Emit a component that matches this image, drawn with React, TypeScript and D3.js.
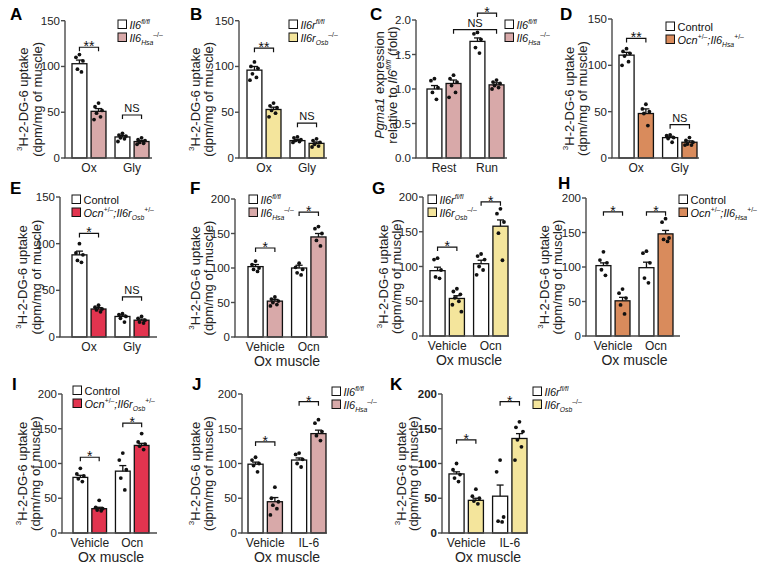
import React from 'react';
import * as d3 from 'd3';

const FONT = "'Liberation Sans', Arial, Helvetica, sans-serif";
const PINK = '#d8a9a9';
const YELLOW = '#f4e59c';
const ORANGE = '#d98b5c';
const RED = '#e2344f';

type Seg = { t: string; it?: boolean; s?: 'sup' | 'sub' };

// ---------- data ----------
const groupsOxGly = ['Ox', 'Gly'];
const groupsRestRun = ['Rest', 'Run'];
const groupsOcn = ['Vehicle', 'Ocn'];
const groupsIL6 = ['Vehicle', 'IL-6'];

const ticks150 = [0, 50, 100, 150];
const ticks200 = [0, 50, 100, 150, 200];
const ticksFold = [0, 0.5, 1.0, 1.5, 2.0];

const aMeans = [103, 51, 23, 18];
const aSems = [4, 3, 1.5, 1.2];
const aPoints = [[113, 110, 106, 97, 94], [60, 56, 52, 49, 45, 42], [27, 25, 24, 22, 21, 18], [22, 20, 19, 17, 16, 15]];

const bMeans = [96, 53, 19, 16];
const bSems = [4, 2.5, 1.2, 1.5];
const bPoints = [[105, 100, 98, 92, 88, 85], [60, 57, 55, 52, 49, 45], [23, 22, 20, 19, 18, 17], [21, 19, 17, 15, 13, 12]];

const cMeans = [1.0, 1.08, 1.69, 1.06];
const cSems = [0.05, 0.05, 0.05, 0.03];
const cPoints = [[1.15, 1.12, 1.02, 0.95, 0.85], [1.2, 1.15, 1.1, 1.05, 0.95, 0.88], [1.82, 1.8, 1.72, 1.6, 1.52], [1.13, 1.1, 1.08, 1.05, 1.02, 1.0]];

const dMeans = [111, 48, 22, 17];
const dSems = [3, 5, 1.5, 1.5];
const dPoints = [[118, 115, 113, 110, 104, 100], [58, 53, 50, 48, 35], [25, 24, 22, 21, 17], [22, 19, 17, 15, 14, 14]];

const eMeans = [88, 30, 22, 18];
const eSems = [4, 1.5, 1.5, 1.2];
const ePoints = [[100, 90, 88, 82, 80], [34, 32, 30, 29, 27], [25, 24, 22, 20, 16], [22, 20, 18, 16, 15]];

const fMeans = [102, 52, 100, 145];
const fSems = [3, 2.5, 4, 5];
const fPoints = [[110, 105, 100, 98, 95], [58, 55, 52, 50, 47, 45], [107, 101, 98, 93, 90], [160, 157, 150, 140, 132]];

const gMeans = [94, 54, 104, 158];
const gSems = [5, 4, 5, 9];
const gPoints = [[112, 110, 95, 85, 83], [68, 64, 60, 55, 50, 45, 35], [118, 115, 110, 100, 95, 88], [183, 176, 164, 148, 109]];

const hMeans = [102, 51, 99, 148];
const hSems = [4, 5, 8, 5];
const hPoints = [[122, 110, 106, 96, 88], [68, 62, 55, 45, 32], [123, 120, 106, 84, 77], [170, 165, 142, 140, 137]];

const iMeans = [80, 35, 89, 126];
const iSems = [3, 2, 8, 3];
const iPoints = [[93, 85, 82, 78, 74], [47, 37, 35, 33, 32], [115, 105, 91, 79, 62], [143, 131, 128, 125, 120]];

const jMeans = [99, 45, 105, 143];
const jSems = [3, 6, 3, 5];
const jPoints = [[109, 105, 100, 97, 88], [66, 50, 45, 40, 35, 26], [115, 113, 106, 100, 95], [163, 158, 146, 140, 133]];

const kMeans = [85, 47, 53, 136];
const kSems = [3, 3, 16, 7];
const kPoints = [[100, 91, 84, 79, 74], [63, 53, 50, 46, 42], [105, 88, 23, 17, 16], [160, 152, 146, 134, 124, 105]];

// significance brackets: [barA, barB, level, label]
const aSig: [number, number, number, string][] = [[0, 1, 121, '**'], [2, 3, 47, 'NS']];
const bSig: [number, number, number, string][] = [[0, 1, 120, '**'], [2, 3, 38, 'NS']];
const cSig: [number, number, number, string][] = [[2, 3, 2.1, '*'], [1, 3, 1.86, 'NS']];
const dSig: [number, number, number, string][] = [[0, 1, 129, '**'], [2, 3, 36, 'NS']];
const eSig: [number, number, number, string][] = [[0, 1, 111, '*'], [2, 3, 43, 'NS']];
const fSig: [number, number, number, string][] = [[0, 1, 129, '*'], [2, 3, 181, '*']];
const gSig: [number, number, number, string][] = [[0, 1, 128, '*'], [2, 3, 193, '*']];
const hSig: [number, number, number, string][] = [[0, 1, 180, '*'], [2, 3, 180, '*']];
const iSig: [number, number, number, string][] = [[0, 1, 109, '*'], [2, 3, 158, '*']];
const jSig: [number, number, number, string][] = [[0, 1, 131, '*'], [2, 3, 189, '*']];
const kSig: [number, number, number, string][] = [[0, 1, 134, '*'], [2, 3, 189, '*']];

// legend labels
const il6fl: Seg[] = [{ t: 'Il6', it: true }, { t: 'fl/fl', it: true, s: 'sup' }];
const il6hsa: Seg[] = [{ t: 'Il6', it: true }, { t: 'Hsa', it: true, s: 'sub' }, { t: '–/–', s: 'sup' }];
const il6rfl: Seg[] = [{ t: 'Il6r', it: true }, { t: 'fl/fl', it: true, s: 'sup' }];
const il6rosb: Seg[] = [{ t: 'Il6r', it: true }, { t: 'Osb', it: true, s: 'sub' }, { t: '–/–', s: 'sup' }];
const control: Seg[] = [{ t: 'Control' }];
const ocnIl6: Seg[] = [{ t: 'Ocn', it: true }, { t: '+/–', s: 'sup' }, { t: ';Il6', it: true }, { t: 'Hsa', it: true, s: 'sub' }, { t: '+/–', s: 'sup' }];
const ocnIl6r: Seg[] = [{ t: 'Ocn', it: true }, { t: '+/–', s: 'sup' }, { t: ';Il6r', it: true }, { t: 'Osb', it: true, s: 'sub' }, { t: '+/–', s: 'sup' }];

const uptake1: Seg[] = [{ t: '3', s: 'sup' }, { t: 'H-2-DG-6 uptake' }];
const uptake2: Seg[] = [{ t: '(dpm/mg of muscle)' }];
const fold1: Seg[] = [{ t: 'Pgma1', it: true }, { t: ' expression' }];
const fold2: Seg[] = [{ t: 'relative to ' }, { t: 'Il6', it: true }, { t: 'fl/fl', it: true, s: 'sup' }, { t: ' (fold)' }];

// ---------- layout ----------
interface Cfg {
  letter: string; lx: number; ly: number;
  axisX: number; yTop: number; yBottom: number; axisEnd: number; barsStart: number; barsEnd: number;
  ticks: number[]; fmt: (v: number) => string; boldTicks?: boolean;
  groups: string[]; means: number[]; sems: number[]; points: number[][]; color: string;
  sig: [number, number, number, string][];
  legX: number; legY: number; legend: Seg[][];
  yl: Seg[][]; ylx: [number, number]; yldy: number;
  xTitle?: string;
}

const fmtInt = d3.format('d');
const fmt1 = d3.format('.1f');

const panels: Cfg[] = [
  { letter: 'A', lx: 10, ly: 20, axisX: 65, yTop: 20.7, yBottom: 158, axisEnd: 152, barsStart: 72, barsEnd: 149, ticks: ticks150, fmt: fmtInt, groups: groupsOxGly, means: aMeans, sems: aSems, points: aPoints, color: PINK, sig: aSig, legX: 118, legY: 20, legend: [il6fl, il6hsa], yl: [uptake1, uptake2], ylx: [-42, -28], yldy: 10 },
  { letter: 'B', lx: 190, ly: 20, axisX: 239, yTop: 20.7, yBottom: 158, axisEnd: 327, barsStart: 247, barsEnd: 324, ticks: ticks150, fmt: fmtInt, groups: groupsOxGly, means: bMeans, sems: bSems, points: bPoints, color: YELLOW, sig: bSig, legX: 289, legY: 20, legend: [il6rfl, il6rosb], yl: [uptake1, uptake2], ylx: [-44, -31], yldy: 10 },
  { letter: 'C', lx: 370, ly: 20, axisX: 416, yTop: 20, yBottom: 158, axisEnd: 507, barsStart: 427, barsEnd: 504, ticks: ticksFold, fmt: fmt1, groups: groupsRestRun, means: cMeans, sems: cSems, points: cPoints, color: PINK, sig: cSig, legX: 505, legY: 20, legend: [il6fl, il6hsa], yl: [fold1, fold2], ylx: [-37, -24], yldy: -4 },
  { letter: 'D', lx: 560, ly: 20, axisX: 612, yTop: 19, yBottom: 158, axisEnd: 699, barsStart: 619, barsEnd: 697, ticks: ticks150, fmt: fmtInt, groups: groupsOxGly, means: dMeans, sems: dSems, points: dPoints, color: ORANGE, sig: dSig, legX: 666, legY: 22, legend: [control, ocnIl6], yl: [uptake1, uptake2], ylx: [-43, -30], yldy: 10 },
  { letter: 'E', lx: 10, ly: 194, axisX: 60, yTop: 197, yBottom: 337, axisEnd: 157, barsStart: 72, barsEnd: 149, ticks: ticks150, fmt: fmtInt, groups: groupsOxGly, means: eMeans, sems: eSems, points: ePoints, color: RED, sig: eSig, legX: 72, legY: 195, legend: [control, ocnIl6r], yl: [uptake1, uptake2], ylx: [-38, -24], yldy: 10 },
  { letter: 'F', lx: 190, ly: 194, axisX: 235, yTop: 199, yBottom: 337, axisEnd: 328, barsStart: 248, barsEnd: 326, ticks: ticks200, fmt: fmtInt, groups: groupsOcn, means: fMeans, sems: fSems, points: fPoints, color: PINK, sig: fSig, legX: 249, legY: 195, legend: [il6fl, il6hsa], yl: [uptake1, uptake2], ylx: [-40, -27], yldy: 10, xTitle: 'Ox muscle' },
  { letter: 'G', lx: 372, ly: 194, axisX: 423, yTop: 197, yBottom: 336, axisEnd: 509, barsStart: 430, barsEnd: 508, ticks: ticks200, fmt: fmtInt, groups: groupsOcn, means: gMeans, sems: gSems, points: gPoints, color: YELLOW, sig: gSig, legX: 428, legY: 195, legend: [il6rfl, il6rosb], yl: [uptake1, uptake2], ylx: [-40, -27], yldy: 10, xTitle: 'Ox muscle' },
  { letter: 'H', lx: 558, ly: 189, axisX: 586, yTop: 198, yBottom: 336, axisEnd: 680, barsStart: 596, barsEnd: 673, ticks: ticks200, fmt: fmtInt, groups: groupsOcn, means: hMeans, sems: hSems, points: hPoints, color: ORANGE, sig: hSig, legX: 679, legY: 195, legend: [control, ocnIl6], yl: [uptake1, uptake2], ylx: [-42, -29], yldy: 10, xTitle: 'Ox muscle' },
  { letter: 'I', lx: 12, ly: 390, axisX: 62, yTop: 394, yBottom: 533, axisEnd: 157, barsStart: 73, barsEnd: 149, ticks: ticks200, fmt: fmtInt, groups: groupsOcn, means: iMeans, sems: iSems, points: iPoints, color: RED, sig: iSig, legX: 73, legY: 386, legend: [control, ocnIl6r], yl: [uptake1, uptake2], ylx: [-40, -27], yldy: 10, xTitle: 'Ox muscle' },
  { letter: 'J', lx: 192, ly: 390, axisX: 242, yTop: 394, yBottom: 533, axisEnd: 327, barsStart: 248, barsEnd: 326, ticks: ticks200, fmt: fmtInt, groups: groupsIL6, means: jMeans, sems: jSems, points: jPoints, color: PINK, sig: jSig, legX: 332, legY: 387, legend: [il6fl, il6hsa], yl: [uptake1, uptake2], ylx: [-47, -34], yldy: 10, xTitle: 'Ox muscle' },
  { letter: 'K', lx: 390, ly: 390, axisX: 442, yTop: 394, yBottom: 533, axisEnd: 528, barsStart: 449, barsEnd: 527, ticks: ticks200, fmt: fmtInt, boldTicks: true, groups: groupsIL6, means: kMeans, sems: kSems, points: kPoints, color: YELLOW, sig: kSig, legX: 533, legY: 387, legend: [il6rfl, il6rosb], yl: [uptake1, uptake2], ylx: [-41, -29], yldy: 10, xTitle: 'Ox muscle' },
];

const JITTER = [0, -3.5, 3.5, -2, 2, -4.5, 4.5];

function Rich({ segs, fs, ...rest }: any) {
  let cur = 0;
  const kids = segs.map((s: Seg, i: number) => {
    const target = s.s === 'sup' ? -0.4 * fs : s.s === 'sub' ? 0.3 * fs : 0;
    const dy = target - cur;
    cur = target;
    return (
      <tspan key={i} dy={dy} fontSize={s.s ? fs * 0.62 : fs} fontStyle={s.it ? 'italic' : 'normal'}>
        {s.t}
      </tspan>
    );
  });
  return <text fontSize={fs} fontFamily={FONT} {...rest}>{kids}</text>;
}

function Panel({ c }: { c: Cfg }) {
  const max = c.ticks[c.ticks.length - 1];
  const y = d3.scaleLinear().domain([0, max]).range([c.yBottom, c.yTop]);
  const gx = d3.scaleBand<string>().domain(c.groups).range([c.barsStart, c.barsEnd]).paddingInner(0.21);
  const bx = d3.scaleBand<string>().domain(['a', 'b']).range([0, gx.bandwidth()]).paddingInner(0.22);
  const bw = bx.bandwidth();
  const bars = c.means.map((m, i) => {
    const g = c.groups[Math.floor(i / 2)];
    const x0 = (gx(g) as number) + (bx(i % 2 === 0 ? 'a' : 'b') as number);
    return { x0, cx: x0 + bw / 2, m, sem: c.sems[i], pts: c.points[i], fill: i % 2 === 0 ? '#ffffff' : c.color };
  });
  const midY = (c.yTop + c.yBottom) / 2 + c.yldy;
  const axisColor = '#4a4a4a';
  return (
    <g>
      <text x={c.lx} y={c.ly} fontFamily={FONT} fontWeight="bold" fontSize={17}>{c.letter}</text>
      {/* y label */}
      <Rich segs={c.yl[0]} fs={13} textAnchor="middle" transform={`translate(${c.axisX + c.ylx[0] + 4.5},${midY}) rotate(-90)`} fill="#222" />
      <Rich segs={c.yl[1]} fs={13} textAnchor="middle" transform={`translate(${c.axisX + c.ylx[1] + 4.5},${midY}) rotate(-90)`} fill="#222" />
      {/* bars */}
      {bars.map((b, i) => (
        <rect key={'b' + i} x={b.x0} y={y(b.m)} width={bw} height={c.yBottom - y(b.m)} fill={b.fill} stroke="#111" strokeWidth={1.3} />
      ))}
      {/* error bars */}
      {bars.map((b, i) => (
        <g key={'e' + i} stroke="#111" strokeWidth={1.3}>
          <line x1={b.cx} x2={b.cx} y1={y(b.m)} y2={y(b.m + b.sem)} />
          <line x1={b.cx - 3.5} x2={b.cx + 3.5} y1={y(b.m + b.sem)} y2={y(b.m + b.sem)} />
        </g>
      ))}
      {/* points */}
      {bars.map((b, i) =>
        b.pts.map((p, j) => <circle key={'p' + i + '_' + j} cx={b.cx + JITTER[j % JITTER.length]} cy={y(p)} r={1.9} fill="#111" />)
      )}
      {/* axes */}
      <line x1={c.axisX} x2={c.axisX} y1={c.yTop} y2={c.yBottom} stroke={axisColor} strokeWidth={1.4} />
      <line x1={c.axisX - 0.7} x2={c.axisEnd} y1={c.yBottom} y2={c.yBottom} stroke={axisColor} strokeWidth={1.4} />
      {c.ticks.map((t, i) => (
        <g key={'t' + i}>
          <line x1={c.axisX - 4} x2={c.axisX} y1={y(t)} y2={y(t)} stroke={axisColor} strokeWidth={1.4} />
          <text x={c.axisX - 5} y={y(t) + 4} textAnchor="end" fontFamily={FONT} fontSize={11.5} fontWeight={c.boldTicks ? 'bold' : 'normal'} fill="#222">
            {c.fmt(t)}
          </text>
        </g>
      ))}
      {c.groups.map((g) => (
        <text key={'g' + g} x={(gx(g) as number) + gx.bandwidth() / 2} y={c.yBottom + 14} textAnchor="middle" fontFamily={FONT} fontSize={12} fill="#222">
          {g}
        </text>
      ))}
      {c.xTitle && (
        <text x={(c.barsStart + c.barsEnd) / 2} y={c.yBottom + 29} textAnchor="middle" fontFamily={FONT} fontSize={14} fill="#222">
          {c.xTitle}
        </text>
      )}
      {/* significance */}
      {c.sig.map(([a, b, lvl, lab], i) => {
        const x1 = bars[a].cx, x2 = bars[b].cx, yy = y(lvl);
        return (
          <g key={'s' + i}>
            <path d={`M${x1},${yy + 4}V${yy}H${x2}V${yy + 4}`} fill="none" stroke="#111" strokeWidth={1.2} />
            <text x={(x1 + x2) / 2} y={lab === 'NS' ? yy - 3 : yy + 4} textAnchor="middle" fontFamily={FONT} fontSize={lab === 'NS' ? 11 : 14} fill="#111">
              {lab}
            </text>
          </g>
        );
      })}
      {/* legend */}
      {c.legend.map((segs, i) => (
        <g key={'l' + i}>
          <rect x={c.legX} y={c.legY + i * 13} width={8.5} height={8.5} fill={i === 0 ? '#ffffff' : c.color} stroke="#111" strokeWidth={1} />
          <Rich segs={segs} fs={11} x={c.legX + 11.5} y={c.legY + i * 13 + 8.5} fill="#111" />
        </g>
      ))}
    </g>
  );
}

export default function App() {
  return (
    <svg width={766} height={574} style={{ position: 'absolute', left: 0, top: 0, background: '#fff' }}>
      <rect width={766} height={574} fill="#fff" />
      {panels.map((p) => (
        <Panel key={p.letter} c={p} />
      ))}
    </svg>
  );
}
